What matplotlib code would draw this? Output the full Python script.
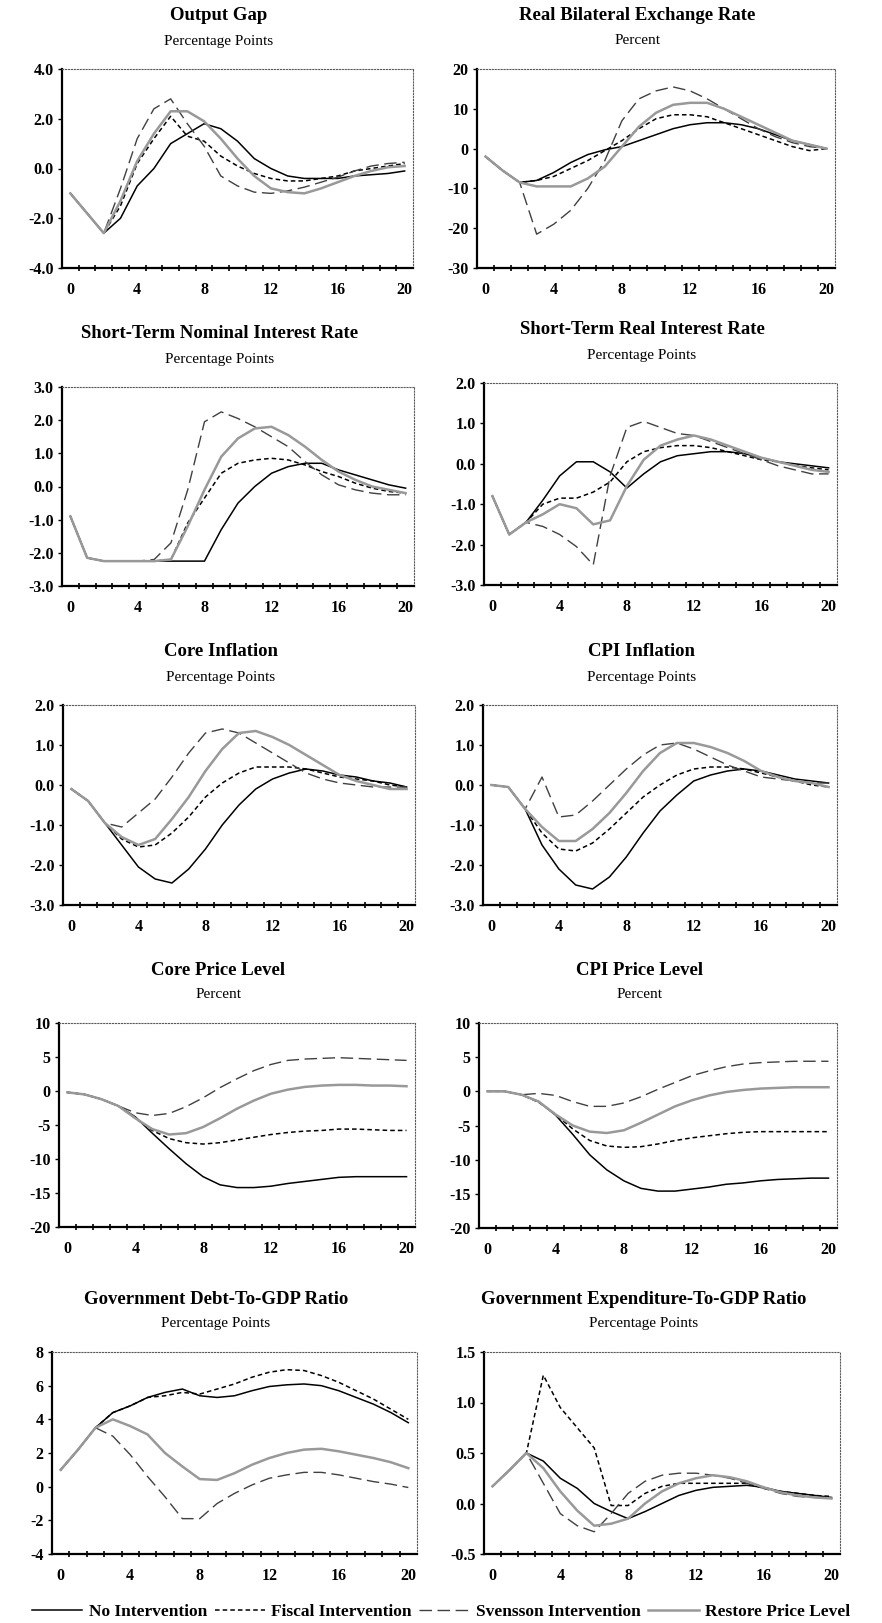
import matplotlib
matplotlib.use("Agg")
import matplotlib.pyplot as plt
from matplotlib.ticker import FormatStrFormatter, MultipleLocator, FixedLocator

# quarters after the shock
quarters = list(range(21))

series_labels = ["No Intervention", "Fiscal Intervention",
                 "Svensson Intervention", "Restore Price Level"]

# Output gap
gap_none = [-1.0, -1.8, -2.6, -2.0, -0.7, 0.0, 1.0, 1.4, 1.8, 1.6, 1.1, 0.4, 0.0,
            -0.3, -0.4, -0.4, -0.4, -0.3, -0.25, -0.2, -0.1]
gap_fiscal = [-1.0, -1.8, -2.6, -1.5, 0.2, 1.2, 2.1, 1.3, 1.1, 0.5, 0.1, -0.2, -0.4,
              -0.5, -0.5, -0.4, -0.3, -0.1, 0.0, 0.1, 0.2]
gap_svensson = [-1.0, -1.8, -2.6, -0.8, 1.2, 2.4, 2.8, 1.8, 0.9, -0.3, -0.7, -0.95, -1.0,
                -0.9, -0.75, -0.55, -0.35, -0.1, 0.1, 0.2, 0.25]
gap_restore = [-1.0, -1.8, -2.6, -1.3, 0.3, 1.4, 2.3, 2.3, 1.9, 1.2, 0.4, -0.3, -0.8,
               -0.95, -1.0, -0.8, -0.55, -0.3, -0.1, 0.05, 0.1]

# Real bilateral exchange rate
rer_none = [-2, -5.5, -8.5, -8, -6, -3.5, -1.5, -0.3, 0.5, 2, 3.5, 5, 6, 6.5, 6.5,
            6, 5, 3.5, 2, 1, 0]
rer_fiscal = [-2, -5.5, -8.5, -8, -7, -5, -3, -0.5, 2, 5, 7.5, 8.5, 8.5, 8, 6.5,
              5, 3.5, 2, 0.5, -0.5, 0]
rer_svensson = [-2, -5.5, -8.5, -21.5, -19, -15.5, -10, -3, 7, 12.5, 14.5, 15.5, 14.5,
                12.5, 10, 7.5, 5, 3, 1.5, 0.5, 0]
rer_restore = [-2, -5.5, -8.5, -9.5, -9.5, -9.5, -7.5, -4.5, 0.5, 5.5, 9, 11, 11.5,
               11.5, 10, 8, 6, 4, 2, 1, 0]

# Short-term nominal interest rate
nom_none = [-0.9, -2.15, -2.25, -2.25, -2.25, -2.25, -2.25, -2.25, -2.25, -1.3, -0.5,
            0.0, 0.4, 0.6, 0.7, 0.7, 0.5, 0.35, 0.2, 0.05, -0.05]
nom_fiscal = [-0.9, -2.15, -2.25, -2.25, -2.25, -2.25, -2.2, -1.1, -0.35, 0.4, 0.7,
              0.8, 0.85, 0.8, 0.65, 0.45, 0.3, 0.1, -0.05, -0.15, -0.2]
nom_svensson = [-0.9, -2.15, -2.25, -2.25, -2.25, -2.2, -1.7, -0.1, 1.95, 2.25, 2.05,
                1.8, 1.5, 1.2, 0.75, 0.35, 0.05, -0.1, -0.2, -0.25, -0.25]
nom_restore = [-0.9, -2.15, -2.25, -2.25, -2.25, -2.25, -2.2, -1.2, -0.1, 0.9, 1.45,
               1.75, 1.8, 1.55, 1.2, 0.8, 0.45, 0.2, 0.0, -0.1, -0.2]

# Short-term real interest rate
real_none = [-0.8, -1.75, -1.45, -0.9, -0.3, 0.05, 0.05, -0.2, -0.6, -0.25, 0.05,
             0.2, 0.25, 0.3, 0.3, 0.25, 0.15, 0.05, 0.0, -0.05, -0.1]
real_fiscal = [-0.8, -1.75, -1.45, -1.0, -0.85, -0.85, -0.7, -0.45, 0.05, 0.3, 0.4,
               0.45, 0.45, 0.4, 0.3, 0.2, 0.1, 0.05, -0.05, -0.1, -0.15]
real_svensson = [-0.8, -1.75, -1.45, -1.55, -1.75, -2.05, -2.5, -0.3, 0.9, 1.05, 0.9,
                 0.75, 0.7, 0.55, 0.4, 0.25, 0.1, -0.05, -0.15, -0.25, -0.25]
real_restore = [-0.8, -1.75, -1.45, -1.25, -1.0, -1.1, -1.5, -1.4, -0.55, 0.1, 0.45,
                0.6, 0.7, 0.6, 0.45, 0.3, 0.15, 0.05, -0.05, -0.15, -0.2]

# Core inflation
core_none = [-0.1, -0.4, -0.95, -1.5, -2.05, -2.35, -2.45, -2.1, -1.6, -1.0, -0.5,
             -0.1, 0.15, 0.3, 0.4, 0.35, 0.25, 0.2, 0.1, 0.05, -0.05]
core_fiscal = [-0.1, -0.4, -0.95, -1.35, -1.55, -1.5, -1.2, -0.8, -0.3, 0.05, 0.3,
               0.45, 0.45, 0.45, 0.4, 0.3, 0.2, 0.15, 0.1, 0.0, -0.05]
core_svensson = [-0.1, -0.4, -0.95, -1.05, -0.7, -0.35, 0.2, 0.8, 1.3, 1.4, 1.3,
                 1.05, 0.8, 0.55, 0.3, 0.15, 0.05, 0.0, -0.05, -0.05, -0.05]
core_restore = [-0.1, -0.4, -0.95, -1.3, -1.5, -1.35, -0.85, -0.3, 0.35, 0.9, 1.3,
                1.35, 1.2, 1.0, 0.75, 0.5, 0.25, 0.1, 0.0, -0.1, -0.1]

# CPI inflation
cpi_none = [0.0, -0.05, -0.6, -1.5, -2.1, -2.5, -2.6, -2.3, -1.8, -1.2, -0.65,
            -0.25, 0.1, 0.25, 0.35, 0.4, 0.35, 0.25, 0.15, 0.1, 0.05]
cpi_fiscal = [0.0, -0.05, -0.6, -1.2, -1.6, -1.65, -1.45, -1.1, -0.7, -0.3, 0.0,
              0.25, 0.4, 0.45, 0.45, 0.4, 0.3, 0.2, 0.1, 0.0, -0.05]
cpi_svensson = [0.0, -0.05, -0.6, 0.2, -0.8, -0.75, -0.4, 0.0, 0.4, 0.75, 1.0,
                1.05, 0.9, 0.7, 0.5, 0.35, 0.2, 0.15, 0.1, 0.05, 0.05]
cpi_restore = [0.0, -0.05, -0.6, -1.05, -1.4, -1.4, -1.1, -0.7, -0.2, 0.35, 0.8,
               1.05, 1.05, 0.95, 0.8, 0.6, 0.35, 0.2, 0.1, 0.05, -0.05]

# Core price level
corep_none = [-0.2, -0.5, -1.2, -2.2, -3.8, -6.2, -8.5, -10.7, -12.6, -13.8, -14.2,
              -14.2, -14.0, -13.6, -13.3, -13.0, -12.7, -12.6, -12.6, -12.6, -12.6]
corep_fiscal = [-0.2, -0.5, -1.2, -2.2, -4.0, -5.8, -7.0, -7.6, -7.8, -7.6, -7.2,
                -6.8, -6.4, -6.1, -5.9, -5.8, -5.6, -5.6, -5.7, -5.8, -5.8]
corep_svensson = [-0.2, -0.5, -1.2, -2.2, -3.2, -3.6, -3.3, -2.3, -1.0, 0.5, 1.8,
                  3.0, 3.9, 4.5, 4.7, 4.8, 4.9, 4.8, 4.7, 4.6, 4.5]
corep_restore = [-0.2, -0.5, -1.2, -2.2, -4.0, -5.6, -6.4, -6.2, -5.3, -4.0, -2.6,
                 -1.4, -0.4, 0.2, 0.6, 0.8, 0.9, 0.9, 0.8, 0.8, 0.7]

# CPI price level
cpip_none = [0.0, 0.0, -0.5, -1.5, -3.5, -6.3, -9.3, -11.5, -13.1, -14.2, -14.6,
             -14.6, -14.3, -14.0, -13.6, -13.4, -13.1, -12.9, -12.8, -12.7, -12.7]
cpip_fiscal = [0.0, 0.0, -0.5, -1.6, -3.4, -5.5, -7.2, -8.0, -8.2, -8.1, -7.7,
               -7.2, -6.8, -6.5, -6.2, -6.0, -5.9, -5.9, -5.9, -5.9, -5.9]
cpip_svensson = [0.0, 0.0, -0.5, -0.3, -0.6, -1.5, -2.2, -2.2, -1.7, -0.8, 0.3,
                 1.3, 2.3, 3.0, 3.6, 4.0, 4.2, 4.3, 4.4, 4.4, 4.4]
cpip_restore = [0.0, 0.0, -0.5, -1.5, -3.4, -5.0, -5.9, -6.1, -5.7, -4.6, -3.4,
                -2.2, -1.3, -0.6, -0.1, 0.2, 0.4, 0.5, 0.6, 0.6, 0.6]

# Government debt-to-GDP ratio
debt_none = [1.0, 2.2, 3.5, 4.4, 4.8, 5.3, 5.6, 5.8, 5.4, 5.3, 5.4, 5.7, 5.95,
             6.05, 6.1, 6.0, 5.7, 5.3, 4.9, 4.4, 3.8]
debt_fiscal = [1.0, 2.2, 3.5, 4.4, 4.8, 5.3, 5.4, 5.6, 5.5, 5.8, 6.1, 6.5, 6.8,
               6.95, 6.9, 6.6, 6.2, 5.7, 5.2, 4.6, 4.0]
debt_svensson = [1.0, 2.2, 3.5, 3.0, 1.9, 0.6, -0.6, -1.9, -1.9, -1.0, -0.4, 0.1,
                 0.5, 0.7, 0.85, 0.85, 0.7, 0.5, 0.3, 0.15, -0.05]
debt_restore = [1.0, 2.2, 3.5, 4.0, 3.6, 3.1, 2.0, 1.2, 0.45, 0.4, 0.8, 1.3, 1.7,
                2.0, 2.2, 2.25, 2.1, 1.9, 1.7, 1.45, 1.1]

# Government expenditure-to-GDP ratio
exp_none = [0.17, 0.33, 0.5, 0.42, 0.25, 0.15, 0.0, -0.08, -0.15, -0.08, 0.0, 0.08,
            0.13, 0.16, 0.17, 0.18, 0.16, 0.12, 0.1, 0.08, 0.06]
exp_fiscal = [0.17, 0.33, 0.5, 1.27, 0.95, 0.75, 0.55, -0.02, -0.02, 0.1, 0.17, 0.2,
              0.2, 0.2, 0.2, 0.2, 0.15, 0.12, 0.1, 0.08, 0.07]
exp_svensson = [0.17, 0.33, 0.5, 0.2, -0.1, -0.22, -0.28, -0.1, 0.1, 0.22, 0.28, 0.3,
                0.3, 0.28, 0.25, 0.2, 0.15, 0.1, 0.07, 0.06, 0.05]
exp_restore = [0.17, 0.33, 0.5, 0.35, 0.12, -0.07, -0.22, -0.2, -0.15, 0.0, 0.12, 0.2,
               0.25, 0.28, 0.26, 0.22, 0.16, 0.11, 0.08, 0.06, 0.05]

panel_titles = ["Output Gap", "Real Bilateral Exchange Rate",
                "Short-Term Nominal Interest Rate", "Short-Term Real Interest Rate",
                "Core Inflation", "CPI Inflation",
                "Core Price Level", "CPI Price Level",
                "Government Debt-To-GDP Ratio", "Government Expenditure-To-GDP Ratio"]
panel_units = ["Percentage Points", "Percent",
               "Percentage Points", "Percentage Points",
               "Percentage Points", "Percentage Points",
               "Percent", "Percent",
               "Percentage Points", "Percentage Points"]
panel_series = [
    (gap_none, gap_fiscal, gap_svensson, gap_restore),
    (rer_none, rer_fiscal, rer_svensson, rer_restore),
    (nom_none, nom_fiscal, nom_svensson, nom_restore),
    (real_none, real_fiscal, real_svensson, real_restore),
    (core_none, core_fiscal, core_svensson, core_restore),
    (cpi_none, cpi_fiscal, cpi_svensson, cpi_restore),
    (corep_none, corep_fiscal, corep_svensson, corep_restore),
    (cpip_none, cpip_fiscal, cpip_svensson, cpip_restore),
    (debt_none, debt_fiscal, debt_svensson, debt_restore),
    (exp_none, exp_fiscal, exp_svensson, exp_restore),
]
# y axis: (min, max, step, format)
panel_yaxis = [(-4, 4, 2, "%.1f"), (-30, 20, 10, "%d"),
               (-3, 3, 1, "%.1f"), (-3, 2, 1, "%.1f"),
               (-3, 2, 1, "%.1f"), (-3, 2, 1, "%.1f"),
               (-20, 10, 5, "%d"), (-20, 10, 5, "%d"),
               (-4, 8, 2, "%d"), (-0.5, 1.5, 0.5, "%.1f")]

# axes boxes in pixels: left, top, right, bottom
boxes = [(62, 69, 413, 268), (477, 69, 835, 268),
         (62, 387, 414, 586), (484, 383, 837, 585),
         (63, 705, 415, 905), (483, 705, 837, 905),
         (59, 1023, 415, 1227), (479, 1023, 837, 1228),
         (52, 1352, 417, 1554), (484, 1352, 840, 1554)]

W, H = 882, 1623
serif = "Liberation Serif"

styles = [dict(color="black", lw=1.1, ls="-"),
          dict(color="black", lw=1.1, ls=(0, (3, 2))),
          dict(color="0.25", lw=1.0, ls=(0, (9, 4))),
          dict(color="0.6", lw=1.8, ls="-")]


def main():
    plt.rcParams["axes.unicode_minus"] = False
    fig = plt.figure(figsize=(W / 100, H / 100), dpi=100)

    for i in range(10):
        l, t, r, b = boxes[i]
        ax = fig.add_axes([l / W, 1 - b / H, (r - l) / W, (b - t) / H])
        for s, st in zip(panel_series[i], styles):
            ax.plot(quarters, s, **st)

        ymin, ymax, step, fmt = panel_yaxis[i]
        ax.set_ylim(ymin, ymax)
        ax.yaxis.set_major_locator(MultipleLocator(step))
        ax.yaxis.set_major_formatter(FormatStrFormatter(fmt))
        ax.set_xlim(-0.5, 20.5)
        ax.set_xticks([0, 4, 8, 12, 16, 20])
        ax.xaxis.set_minor_locator(FixedLocator([k + 0.5 for k in range(20)]))
        ax.tick_params(axis="x", which="major", length=0, pad=10)
        ax.tick_params(axis="x", which="minor", length=4, width=1.2, direction="inout")
        ax.tick_params(axis="y", length=3, width=1.0, direction="out", pad=3)
        for lab in ax.get_xticklabels() + ax.get_yticklabels():
            lab.set_fontfamily(serif)
            lab.set_fontweight("bold")
            lab.set_fontsize(11.5)

        ax.spines["left"].set_linewidth(1.6)
        ax.spines["bottom"].set_linewidth(1.6)
        for side in ["top", "right"]:
            ax.spines[side].set_linewidth(0.8)
            ax.spines[side].set_linestyle(":")
            ax.spines[side].set_color("0.35")

        # titles are centred over the axes plus the tick labels
        cx = (l - 37 + r) / 2 / W
        fig.text(cx, 1 - (t - 53) / H, panel_titles[i], ha="center", va="center",
                 family=serif, weight="bold", fontsize=13.5)
        fig.text(cx, 1 - (t - 28) / H, panel_units[i], ha="center", va="center",
                 family=serif, fontsize=11)

    handles = [plt.Line2D([], [], **st) for st in styles]
    fig.legend(handles, series_labels, loc="center", bbox_to_anchor=(0.5, 11 / H),
               ncol=4, frameon=False, handlelength=2.9, handletextpad=0.35,
               columnspacing=0.45, borderaxespad=0, borderpad=0,
               prop=dict(family=serif, weight="bold", size=12.5))

    fig.savefig("out.png", dpi=100, facecolor="white")


if __name__ == '__main__':
    main()
